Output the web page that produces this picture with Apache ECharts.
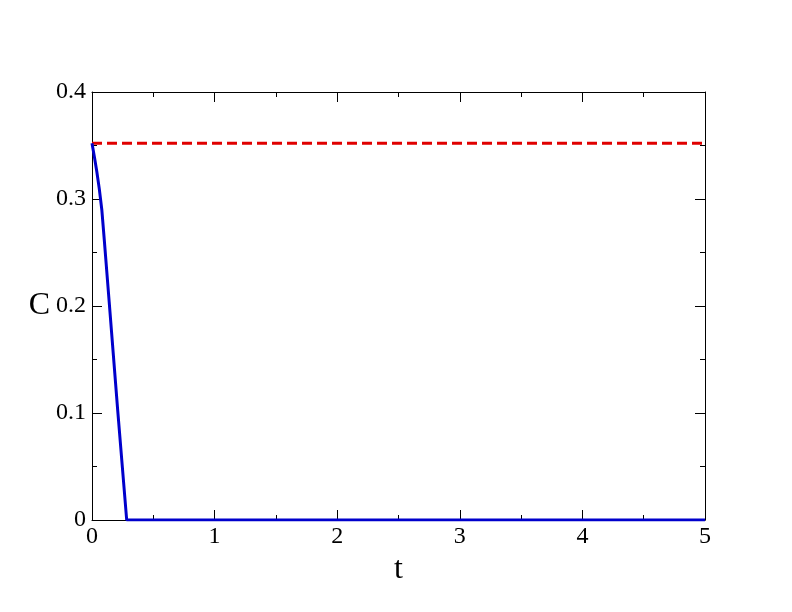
<!DOCTYPE html>
<html>
<head>
<meta charset="utf-8">
<script src="https://cdn.jsdelivr.net/npm/echarts@6/dist/echarts.min.js"></script>
<style>
  html, body { margin: 0; padding: 0; background: #fff; }
  #chart { width: 792px; height: 612px; }
</style>
</head>
<body>
<div id="chart"></div>
<script>
// decay curve C(t)
const curveT = [0, 0.02, 0.04, 0.06, 0.08, 0.1, 0.14, 0.21, 0.283, 1, 2, 3, 4, 5]
const curveC = [0.352, 0.339, 0.325, 0.309, 0.29, 0.262, 0.204, 0.102, 0, 0, 0, 0, 0, 0]
// constant reference level
const refT = [0, 5]
const refC = [0.352, 0.352]

const font = 'Liberation Serif, Times New Roman, serif'

const zip = (a, b) => a.map((v, i) => [v, b[i]])

const tickStyle = {
  axisLine: { show: true, onZero: false, lineStyle: { color: '#000', width: 1 } },
  axisTick: { show: true, inside: true, length: 10, lineStyle: { color: '#000' } },
  minorTick: { show: true, splitNumber: 2, length: 5, lineStyle: { color: '#000' } },
  splitLine: { show: false }
}

const chart = echarts.init(document.getElementById('chart'))
chart.setOption({
  animation: false,
  grid: { left: 92, right: 87, top: 92, bottom: 92 },
  xAxis: [
    {
      type: 'value', min: 0, max: 5, interval: 1,
      name: 't', nameLocation: 'middle', nameGap: 26,
      nameTextStyle: { fontFamily: font, fontSize: 32, color: '#000' },
      axisLabel: { fontFamily: font, fontSize: 24, color: '#000', margin: 5 },
      ...tickStyle
    },
    {
      type: 'value', min: 0, max: 5, interval: 1, position: 'top',
      axisLabel: { show: false },
      ...tickStyle
    }
  ],
  yAxis: [
    {
      type: 'value', min: 0, max: 0.4, interval: 0.1,
      name: 'C', nameLocation: 'middle', nameGap: 41, nameRotate: 0,
      nameTextStyle: { fontFamily: font, fontSize: 32, color: '#000' },
      axisLabel: { fontFamily: font, fontSize: 24, color: '#000', margin: 6 },
      ...tickStyle
    },
    {
      type: 'value', min: 0, max: 0.4, interval: 0.1, position: 'right',
      axisLabel: { show: false },
      ...tickStyle
    }
  ],
  series: [
    {
      type: 'line', data: zip(refT, refC), showSymbol: false,
      lineStyle: { color: '#e00000', width: 3, type: [10, 5] }, z: 3
    },
    {
      type: 'line', data: zip(curveT, curveC), showSymbol: false,
      lineStyle: { color: '#0000cc', width: 3 }, z: 4
    }
  ]
})
</script>
</body>
</html>
